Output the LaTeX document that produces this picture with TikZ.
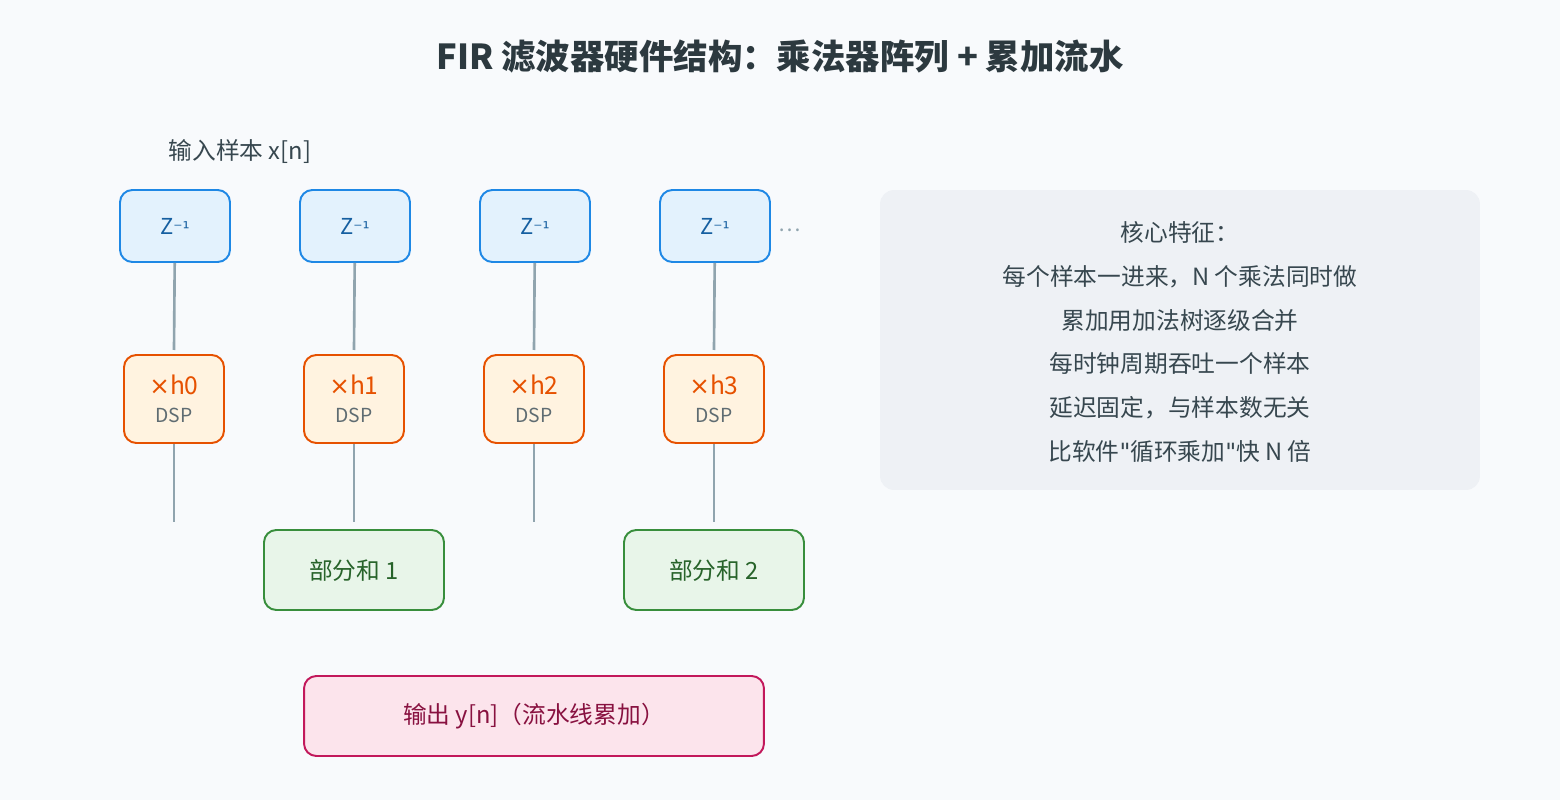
\documentclass[tikz,border=0pt]{standalone}
\usepackage{fontspec}
\setmainfont{Noto Sans CJK SC}
\newfontfamily\symfnt{DejaVu Sans}
\definecolor{bgc}{HTML}{F8FAFC}
\definecolor{delayfill}{HTML}{E3F2FD}
\definecolor{delayline}{HTML}{1E88E5}
\definecolor{mulfill}{HTML}{FFF3E0}
\definecolor{mulline}{HTML}{E65100}
\definecolor{sumfill}{HTML}{E8F5E9}
\definecolor{sumline}{HTML}{388E3C}
\definecolor{outfill}{HTML}{FCE4EC}
\definecolor{outline}{HTML}{C2185B}
\definecolor{wire}{HTML}{90A4AE}
\definecolor{panel}{HTML}{EEF1F5}
\definecolor{txt}{HTML}{37474F}
\tikzset{
  box/.style={draw, rounded corners=7pt, line width=1.1pt, inner sep=0pt, align=center},
  delay/.style={box, fill=delayfill, draw=delayline, minimum width=2.2cm, minimum height=1.44cm, text=delayline!70!black, font=\fontsize{12.5}{14}\selectfont},
  mul/.style={box, fill=mulfill, draw=mulline, minimum width=2cm, minimum height=1.76cm},
  psum/.style={box, fill=sumfill, draw=sumline, minimum width=3.6cm, minimum height=1.6cm, text=sumline!70!black, font=\fontsize{13.5}{15}\selectfont},
  wire/.style={draw=wire, line width=1.5pt}
}
\begin{document}
\begin{tikzpicture}[x=0.02cm, y=-0.02cm]
\fill[bgc] (0,0) rectangle (1560,800);
\node[font=\bfseries\fontsize{19.6}{22}\selectfont, text=txt!80!black] (title) at (780,57) {FIR 滤波器硬件结构：乘法器阵列 + 累加流水};
\node[text=txt, font=\fontsize{13.5}{15}\selectfont] (input) at (240,152) {输入样本 x[n]};
% delay line, taps and wires
\foreach \i/\x in {0/175,1/355,2/535,3/715}{
  \node[delay] (z\i) at (\x,226) {Z{\symfnt\fontsize{10}{12}\selectfont ⁻¹}};
  \node[mul] (m\i) at (\x-1,399) {\textcolor{mulline}{\fontsize{14}{16}\selectfont{\symfnt ×}h\i}\\[4pt]{\color{txt!80}\fontsize{11}{12}\selectfont DSP}};
  \coordinate (a\i) at (\x-1,350);
  \coordinate (b\i) at (\x-1,522);
  \path[wire] (z\i) -- (a\i);
  \path[wire] (m\i) -- (b\i);
}
\node[text=wire, font=\fontsize{12}{14}\selectfont] (dots) at (790,230) {…};
\node[psum] (s1) at (354,570) {部分和 1};
\node[psum] (s2) at (714,570) {部分和 2};
\node[box, fill=outfill, draw=outline, minimum width=9.2cm, minimum height=1.6cm, text=outline!70!black, font=\fontsize{13.5}{15}\selectfont] (out) at (534,716) {输出 y[n]（流水线累加）};
% feature panel
\node[fill=panel, rounded corners=8pt, minimum width=12cm, minimum height=6cm] (panel) at (1180,340) {};
\node[text=txt, font=\fontsize{13.5}{15}\selectfont, align=center] (feat) at (1180,342) {核心特征：\\[10pt]每个样本一进来，N 个乘法同时做\\[10pt]累加用加法树逐级合并\\[10pt]每时钟周期吞吐一个样本\\[10pt]延迟固定，与样本数无关\\[10pt]比软件{\symfnt "}循环乘加{\symfnt "}快 N 倍};
\end{tikzpicture}
\end{document}
